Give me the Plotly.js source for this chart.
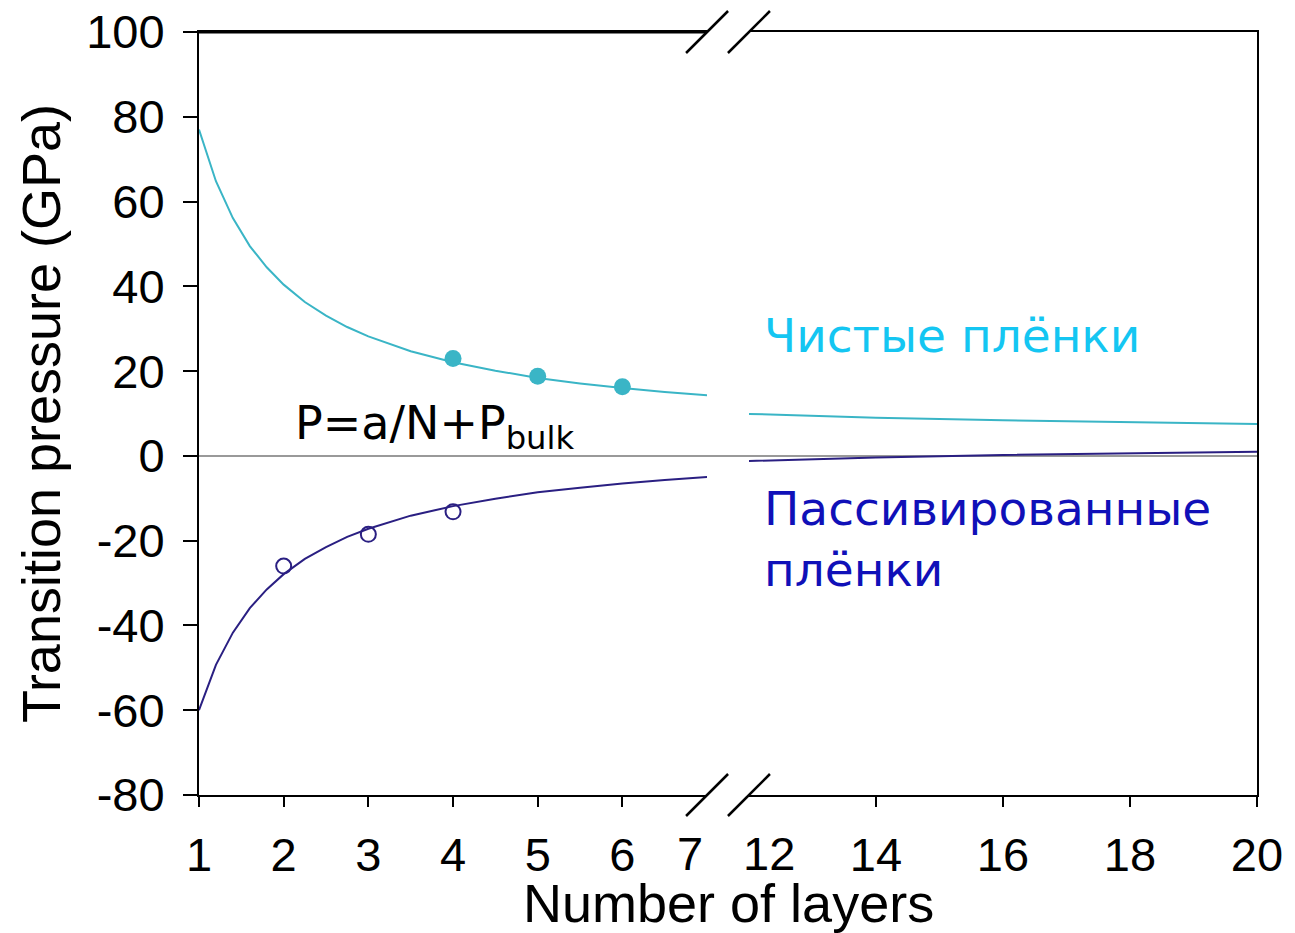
<!DOCTYPE html>
<html>
<head>
<meta charset="utf-8">
<script src="https://cdn.plot.ly/plotly-3.0.1.min.js"></script>
<style>html,body{margin:0;padding:0;background:#fff;}#chart{width:1295px;height:933px;}</style>
</head>
<body>
<div id="chart"></div>
<script>
// Fitted curves, left segment (N = 1..7)
const nLeft = [1, 1.2, 1.4, 1.6, 1.8, 2, 2.25, 2.5, 2.75, 3, 3.5, 4, 4.5, 5, 5.5, 6, 6.5, 7];
const cleanFitLeft = [77.0, 64.8, 56.1, 49.5, 44.5, 40.4, 36.3, 33.1, 30.4, 28.2, 24.7, 22.1, 20.1, 18.4, 17.1, 16.0, 15.1, 14.3];
const passFitLeft = [-60.0, -49.3, -41.7, -35.9, -31.5, -27.9, -24.3, -21.5, -19.1, -17.2, -14.1, -11.85, -10.1, -8.6, -7.5, -6.5, -5.7, -5.0];
// Fitted curves, right segment (N = 12..20)
const nRight = [12, 14, 16, 18, 20];
const cleanFitRight = [9.9, 9.0, 8.4, 7.9, 7.5];
const passFitRight = [-1.2, -0.4, 0.2, 0.6, 1.0];
// Computed points
const cleanN = [4, 5, 6];
const cleanP = [23.0, 18.8, 16.3];
const passN = [2, 3, 4];
const passP = [-26.0, -18.5, -13.2];
// Tick labels
const yTicks = [-80, -60, -40, -20, 0, 20, 40, 60, 80, 100];
const yTickText = ['-80', '-60', '-40', '-20', '0', '20', '40', '60', '80', '100'];
const xLeftTicks = [1, 2, 3, 4, 5, 6];
const xRightTicks = [14, 16, 18, 20];

const cyanLine = '#3ab5c6';
const navyLine = '#2a1f82';
const tickFont = {family: 'Liberation Sans, Arial, sans-serif', size: 47, color: '#000'};
const titleFont = {family: 'Liberation Sans, Arial, sans-serif', size: 54, color: '#000'};
const textFont = 'DejaVu Sans, Verdana, sans-serif';
const leftEnd = 0.4802, rightStart = 0.5198;

const traces = [
  {x: nLeft, y: cleanFitLeft, xaxis: 'x', yaxis: 'y', mode: 'lines', line: {color: cyanLine, width: 2}, hoverinfo: 'skip'},
  {x: nLeft, y: passFitLeft, xaxis: 'x', yaxis: 'y', mode: 'lines', line: {color: navyLine, width: 2}, hoverinfo: 'skip'},
  {x: nRight, y: cleanFitRight, xaxis: 'x2', yaxis: 'y2', mode: 'lines', line: {color: cyanLine, width: 2}, hoverinfo: 'skip'},
  {x: nRight, y: passFitRight, xaxis: 'x2', yaxis: 'y2', mode: 'lines', line: {color: navyLine, width: 2}, hoverinfo: 'skip'},
  {x: cleanN, y: cleanP, xaxis: 'x', yaxis: 'y', mode: 'markers', marker: {color: cyanLine, size: 17}},
  {x: passN, y: passP, xaxis: 'x', yaxis: 'y', mode: 'markers', marker: {color: 'rgba(0,0,0,0)', size: 15, line: {color: navyLine, width: 2}}}
];

function slash(xanchor, yanchor) {
  return {type: 'line', xref: 'paper', xsizemode: 'pixel', xanchor: xanchor, x0: -21, x1: 21,
          yref: 'paper', ysizemode: 'pixel', yanchor: yanchor, y0: -21, y1: 21,
          line: {color: '#000', width: 2.5}};
}

const layout = {
  width: 1295, height: 933,
  margin: {l: 199, r: 38, t: 32, b: 138},
  paper_bgcolor: '#fff', plot_bgcolor: '#fff',
  showlegend: false,
  xaxis: {domain: [0, leftEnd], range: [1, 7], tickvals: xLeftTicks, ticks: 'outside', ticklen: 10, tickwidth: 2,
          tickcolor: '#000', showline: true, linecolor: '#000', linewidth: 2, mirror: true, showgrid: false,
          zeroline: false, tickfont: tickFont, ticklabelstandoff: 8, anchor: 'y'},
  xaxis2: {domain: [rightStart, 1], range: [12, 20], tickvals: xRightTicks, ticks: 'outside', ticklen: 10, tickwidth: 2,
          tickcolor: '#000', showline: true, linecolor: '#000', linewidth: 2, mirror: true, showgrid: false,
          zeroline: false, tickfont: tickFont, ticklabelstandoff: 8, anchor: 'y2'},
  yaxis: {range: [-80, 100], tickvals: yTicks, ticktext: yTickText, ticks: 'outside', ticklen: 14, tickwidth: 2, tickcolor: '#000',
          showline: true, linecolor: '#000', linewidth: 2, showgrid: false, zeroline: false, tickfont: tickFont,
          ticklabelstandoff: 9, anchor: 'x',
          title: {text: 'Transition pressure (GPa)', font: titleFont, standoff: 8}},
  yaxis2: {range: [-80, 100], matches: 'y', anchor: 'x2', side: 'right', showline: true, linecolor: '#000', linewidth: 2,
           ticks: '', showticklabels: false, showgrid: false, zeroline: false},
  shapes: [
    {type: 'line', xref: 'paper', x0: 0, x1: 1, yref: 'y', y0: 0, y1: 0, line: {color: '#777', width: 1.5}, layer: 'below'},
    {type: 'line', xref: 'paper', x0: 0, x1: leftEnd, yref: 'paper', y0: 1, y1: 1, line: {color: '#000', width: 3}},
    slash(leftEnd, 1), slash(rightStart, 1), slash(leftEnd, 0), slash(rightStart, 0)
  ],
  annotations: [
    {xref: 'x', x: 7, xshift: -17, yref: 'paper', y: 0, yshift: -30, yanchor: 'top', showarrow: false, text: '7', font: tickFont},
    {xref: 'x2', x: 12, xshift: 20, yref: 'paper', y: 0, yshift: -30, yanchor: 'top', showarrow: false, text: '12', font: tickFont},
    {xref: 'paper', x: 0.5, yref: 'paper', y: 0, yshift: -76, yanchor: 'top', showarrow: false, text: 'Number of layers',
     font: titleFont},
    {xref: 'x2', x: 12.2, yref: 'y2', y: 28.5, xanchor: 'left', yanchor: 'middle', showarrow: false, text: 'Чистые плёнки',
     font: {family: textFont, size: 47, color: '#14c6f2'}},
    {xref: 'x2', x: 12.2, yref: 'y2', y: -19.5, xanchor: 'left', yanchor: 'middle', align: 'left', showarrow: false,
     text: 'Пассивированные<br>плёнки', font: {family: textFont, size: 47, color: '#1010b8'}},
    {xref: 'x', x: 2.11, yref: 'y', y: 7, xanchor: 'left', yanchor: 'middle', showarrow: false,
     text: 'P=a/N+P<sub>bulk</sub>', font: {family: textFont, size: 46, color: '#000'}}
  ]
};

Plotly.newPlot('chart', traces, layout, {displayModeBar: false, staticPlot: true});
</script>
</body>
</html>
